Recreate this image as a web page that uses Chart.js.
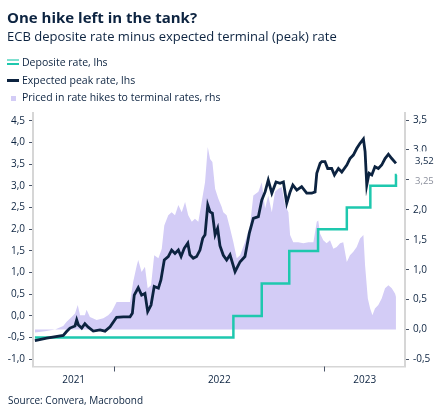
<!DOCTYPE html>
<html>
<head>
<meta charset="utf-8">
<script src="https://cdn.jsdelivr.net/npm/chart.js@4/dist/chart.umd.min.js"></script>
<style>
  body { margin: 0; width: 445px; height: 416px; position: relative; overflow: hidden; background: #fff;
         font-family: "Open Sans", sans-serif; color: #0c2340; }
  #c { position: absolute; left: 0; top: 0; }
  .txt { position: absolute; white-space: nowrap; line-height: 1; }
  #title { left: 7px; top: 9.7px; font-size: 15px; font-weight: 700; }
  #subtitle { left: 7px; top: 30.2px; font-size: 13px; }
  .leg { left: 22px; font-size: 10.5px; }
  .sw { position: absolute; }
  #source { left: 8px; top: 395.4px; font-size: 10px; }
</style>
</head>
<body>
<canvas id="c" width="445" height="416"></canvas>
<div class="txt" id="title">One hike left in the tank?</div>
<div class="txt" id="subtitle">ECB deposite rate minus expected terminal (peak) rate</div>
<div class="sw" style="left:7px;top:59px;width:12px;height:1.5px;border-top:2px solid #7fdfcf;border-bottom:2px solid #1ec8ae;"></div>
<div class="txt leg" style="top:57.4px">Deposite rate, lhs</div>
<div class="sw" style="left:7px;top:79px;width:12px;height:3px;background:#0c2340;"></div>
<div class="txt leg" style="top:75px">Expected peak rate, lhs</div>
<div class="sw" style="left:10.5px;top:95.5px;width:5px;height:5px;background:#d3ccf6;"></div>
<div class="txt leg" style="top:92.4px">Priced in rate hikes to terminal rates, rhs</div>
<div class="txt" id="source">Source: Convera, Macrobond</div>
<script>
// decimal years on the x axis
const xMin = 2021.613, xMax = 2023.384;
const yearLabels = ['2021', '2022', '2023'];
const yearBreaks = [2022, 2023];
const leftTicks = [-1.0, -0.5, 0.0, 0.5, 1.0, 1.5, 2.0, 2.5, 3.0, 3.5, 4.0, 4.5];
const rightTicks = [-0.5, 0.0, 0.5, 1.0, 1.5, 2.0, 2.5, 3.0, 3.5];

// ECB deposit rate (lhs)
const depositDates = [2021.622, 2022.567, 2022.702, 2022.833, 2022.970, 2023.107, 2023.219, 2023.341, 2023.345];
const depositRates = [-0.50, 0.00, 0.75, 1.50, 2.00, 2.50, 3.00, 3.25, 3.25];

// expected peak rate (lhs)
const peakDates = [2021.622, 2021.678, 2021.757, 2021.773, 2021.789, 2021.813, 2021.821, 2021.829, 2021.845, 2021.860,
  2021.876, 2021.900, 2021.932, 2021.956, 2021.980, 2022.011, 2022.043, 2022.075, 2022.086, 2022.095,
  2022.114, 2022.130, 2022.146, 2022.159, 2022.175, 2022.190, 2022.210, 2022.222, 2022.238, 2022.257,
  2022.273, 2022.289, 2022.305, 2022.318, 2022.333, 2022.350, 2022.360, 2022.376, 2022.392, 2022.408,
  2022.421, 2022.432, 2022.445, 2022.456, 2022.467, 2022.480, 2022.492, 2022.503, 2022.519, 2022.535,
  2022.551, 2022.575, 2022.599, 2022.622, 2022.643, 2022.662, 2022.686, 2022.702, 2022.718, 2022.733,
  2022.750, 2022.770, 2022.789, 2022.805, 2022.821, 2022.837, 2022.850, 2022.869, 2022.892, 2022.916,
  2022.940, 2022.956, 2022.964, 2022.980, 2022.988, 2023.003, 2023.016, 2023.035, 2023.048, 2023.067,
  2023.083, 2023.107, 2023.122, 2023.138, 2023.154, 2023.170, 2023.186, 2023.194, 2023.202, 2023.213,
  2023.226, 2023.241, 2023.257, 2023.273, 2023.289, 2023.305, 2023.321, 2023.341];
const peakRates = [-0.57, -0.51, -0.45, -0.36, -0.28, -0.23, -0.09, -0.21, -0.28, -0.18,
  -0.26, -0.35, -0.32, -0.35, -0.25, -0.03, -0.02, -0.02, 0.06, 0.48,
  0.65, 0.48, 0.52, 0.10, 0.25, 0.68, 0.64, 0.83, 1.29, 1.37,
  1.52, 1.44, 1.52, 1.37, 1.56, 1.68, 1.41, 1.33, 1.37, 1.52,
  1.79, 1.87, 2.56, 2.40, 2.37, 1.87, 2.02, 1.62, 1.40, 1.29,
  1.41, 1.02, 1.25, 1.37, 1.91, 2.25, 2.29, 2.67, 2.86, 3.13,
  2.83, 3.09, 3.06, 3.09, 2.60, 2.86, 3.02, 2.90, 2.98, 2.83,
  2.83, 2.86, 3.29, 3.52, 3.56, 3.56, 3.40, 3.40, 3.25, 3.40,
  3.32, 3.48, 3.63, 3.71, 3.86, 3.98, 4.08, 3.79, 3.02, 3.29,
  3.25, 3.44, 3.40, 3.48, 3.63, 3.73, 3.63, 3.52];

// priced in rate hikes to terminal rate (rhs)
const hikeDates = [2021.622, 2021.670, 2021.718, 2021.757, 2021.773, 2021.797, 2021.813, 2021.826, 2021.837, 2021.860,
  2021.868, 2021.884, 2021.916, 2021.948, 2021.971, 2021.988, 2022.011, 2022.043, 2022.075, 2022.090,
  2022.107, 2022.114, 2022.130, 2022.146, 2022.159, 2022.175, 2022.190, 2022.210, 2022.226, 2022.238,
  2022.257, 2022.273, 2022.289, 2022.305, 2022.321, 2022.337, 2022.352, 2022.369, 2022.384, 2022.400,
  2022.416, 2022.432, 2022.445, 2022.456, 2022.467, 2022.480, 2022.495, 2022.511, 2022.519, 2022.535,
  2022.551, 2022.567, 2022.583, 2022.599, 2022.622, 2022.646, 2022.662, 2022.686, 2022.702, 2022.718,
  2022.733, 2022.750, 2022.765, 2022.781, 2022.797, 2022.813, 2022.829, 2022.837, 2022.852, 2022.876,
  2022.900, 2022.924, 2022.948, 2022.964, 2022.971, 2022.980, 2022.995, 2023.011, 2023.027, 2023.043,
  2023.059, 2023.075, 2023.090, 2023.107, 2023.122, 2023.138, 2023.154, 2023.170, 2023.186, 2023.194,
  2023.207, 2023.218, 2023.229, 2023.241, 2023.257, 2023.273, 2023.289, 2023.305, 2023.321, 2023.337,
  2023.341];
const hikeValues = [-0.05, -0.03, 0.00, 0.06, 0.13, 0.21, 0.27, 0.41, 0.24, 0.24,
  0.33, 0.21, 0.16, 0.19, 0.24, 0.30, 0.46, 0.46, 0.46, 0.80,
  1.07, 1.16, 0.96, 1.05, 0.69, 0.74, 1.24, 1.19, 1.35, 1.74,
  1.91, 1.96, 1.91, 2.08, 1.96, 2.13, 1.91, 1.80, 1.85, 1.80,
  2.13, 2.46, 3.05, 2.85, 2.80, 2.35, 2.19, 2.05, 1.96, 1.91,
  1.69, 1.46, 1.19, 1.24, 1.46, 1.74, 2.24, 2.30, 2.46, 2.02,
  2.24, 1.96, 2.30, 2.35, 2.38, 2.08, 1.96, 1.58, 1.46, 1.46,
  1.44, 1.46, 1.46, 1.80, 1.82, 1.60, 1.49, 1.44, 1.49, 1.35,
  1.38, 1.44, 1.46, 1.13, 1.24, 1.30, 1.38, 1.52, 1.58, 1.07,
  0.52, 0.35, 0.24, 0.35, 0.41, 0.52, 0.69, 0.74, 0.69, 0.60,
  0.55];

const FONT = '"Open Sans", sans-serif';
const TEXT = '#0c2340';
const NAVY = '#0c2340';
const TEAL = '#1ec8ae';
const LAVENDER = '#d3ccf6';
const AXIS = '#d6d6d6';
const TICK = '#4a5568';

const toXY = (xs, ys) => xs.map((x, i) => ({ x: x, y: ys[i] }));
const fmt = v => v.toFixed(1).replace('.', ',');
const yearMid = i => {
  const y = +yearLabels[i];
  return (Math.max(xMin, y) + Math.min(xMax, y + 1)) / 2;
};

// year boundary tick marks and the last value labels on the right
const extras = {
  id: 'extras',
  afterDraw(chart) {
    const { ctx, scales } = chart;
    const x = scales.x, y = scales.y;
    ctx.save();
    ctx.strokeStyle = TICK;
    ctx.lineWidth = 1;
    yearBreaks.forEach(v => {
      const px = Math.round(x.getPixelForValue(v)) + 0.5;
      ctx.beginPath();
      ctx.moveTo(px, x.top);
      ctx.lineTo(px, x.top + 5);
      ctx.stroke();
    });

    const lastPeak = peakRates[peakRates.length - 1];
    const lastDep = depositRates[depositRates.length - 1];
    const yPeak = y.getPixelForValue(lastPeak) - 2;
    const yDep = Math.max(y.getPixelForValue(lastDep), yPeak + 20);
    ctx.font = '9.5px ' + FONT;
    ctx.textBaseline = 'middle';
    ctx.textAlign = 'left';
    [[lastPeak, yPeak, TEXT], [lastDep, yDep, '#8b8f9c']].forEach(([v, py, col]) => {
      ctx.fillStyle = '#fff';
      ctx.fillRect(411, py - 10, 30, 18);
      ctx.fillStyle = col;
      ctx.fillText(v.toFixed(2).replace('.', ','), 415, py);
    });
    ctx.restore();
  }
};

new Chart(document.getElementById('c'), {
  type: 'line',
  data: {
    datasets: [
      {
        label: 'Expected peak rate, lhs',
        data: toXY(peakDates, peakRates),
        borderColor: NAVY,
        borderWidth: 2.8,
        yAxisID: 'y',
        order: 0
      },
      {
        label: 'Deposite rate, lhs',
        data: toXY(depositDates, depositRates),
        borderColor: TEAL,
        borderWidth: 2.5,
        stepped: true,
        yAxisID: 'y',
        order: 1
      },
      {
        label: 'Priced in rate hikes to terminal rates, rhs',
        data: toXY(hikeDates, hikeValues),
        borderWidth: 0,
        borderColor: LAVENDER,
        backgroundColor: LAVENDER,
        fill: 'origin',
        yAxisID: 'y1',
        order: 2
      }
    ]
  },
  options: {
    responsive: false,
    animation: false,
    devicePixelRatio: 1,
    layout: { padding: { top: 113, bottom: 29.5, left: 0, right: 0 } },
    elements: { point: { radius: 0 }, line: { tension: 0 } },
    plugins: { legend: { display: false }, tooltip: { enabled: false } },
    scales: {
      x: {
        type: 'linear',
        min: xMin,
        max: xMax,
        afterBuildTicks: s => { s.ticks = yearLabels.map((l, i) => ({ value: yearMid(i) })); },
        afterFit: s => { s.height = 20; },
        ticks: {
          callback: (v, i) => yearLabels[i],
          autoSkip: false,
          maxRotation: 0,
          padding: 8,
          color: TEXT,
          font: { family: FONT, size: 10 }
        },
        grid: { display: false, drawTicks: false },
        border: { display: true, color: AXIS, width: 1.5 }
      },
      y: {
        position: 'left',
        min: -1.166,
        max: 4.68,
        afterBuildTicks: s => { s.ticks = leftTicks.map(v => ({ value: v })); },
        afterFit: s => { s.width = 33; },
        ticks: { callback: v => fmt(v), padding: 4, color: TEXT, font: { family: FONT, size: 10 } },
        grid: { drawOnChartArea: false, drawTicks: true, tickLength: 4, tickColor: TICK },
        border: { display: true, color: AXIS, width: 2 }
      },
      y1: {
        position: 'right',
        min: -0.617,
        max: 3.617,
        afterBuildTicks: s => { s.ticks = rightTicks.map(v => ({ value: v })); },
        afterFit: s => { s.width = 40; },
        ticks: { callback: v => fmt(v), padding: 4, color: TEXT, font: { family: FONT, size: 10 } },
        grid: { drawOnChartArea: false, drawTicks: true, tickLength: 4, tickColor: TICK },
        border: { display: true, color: AXIS, width: 2 }
      }
    }
  },
  plugins: [extras]
});
</script>
</body>
</html>
